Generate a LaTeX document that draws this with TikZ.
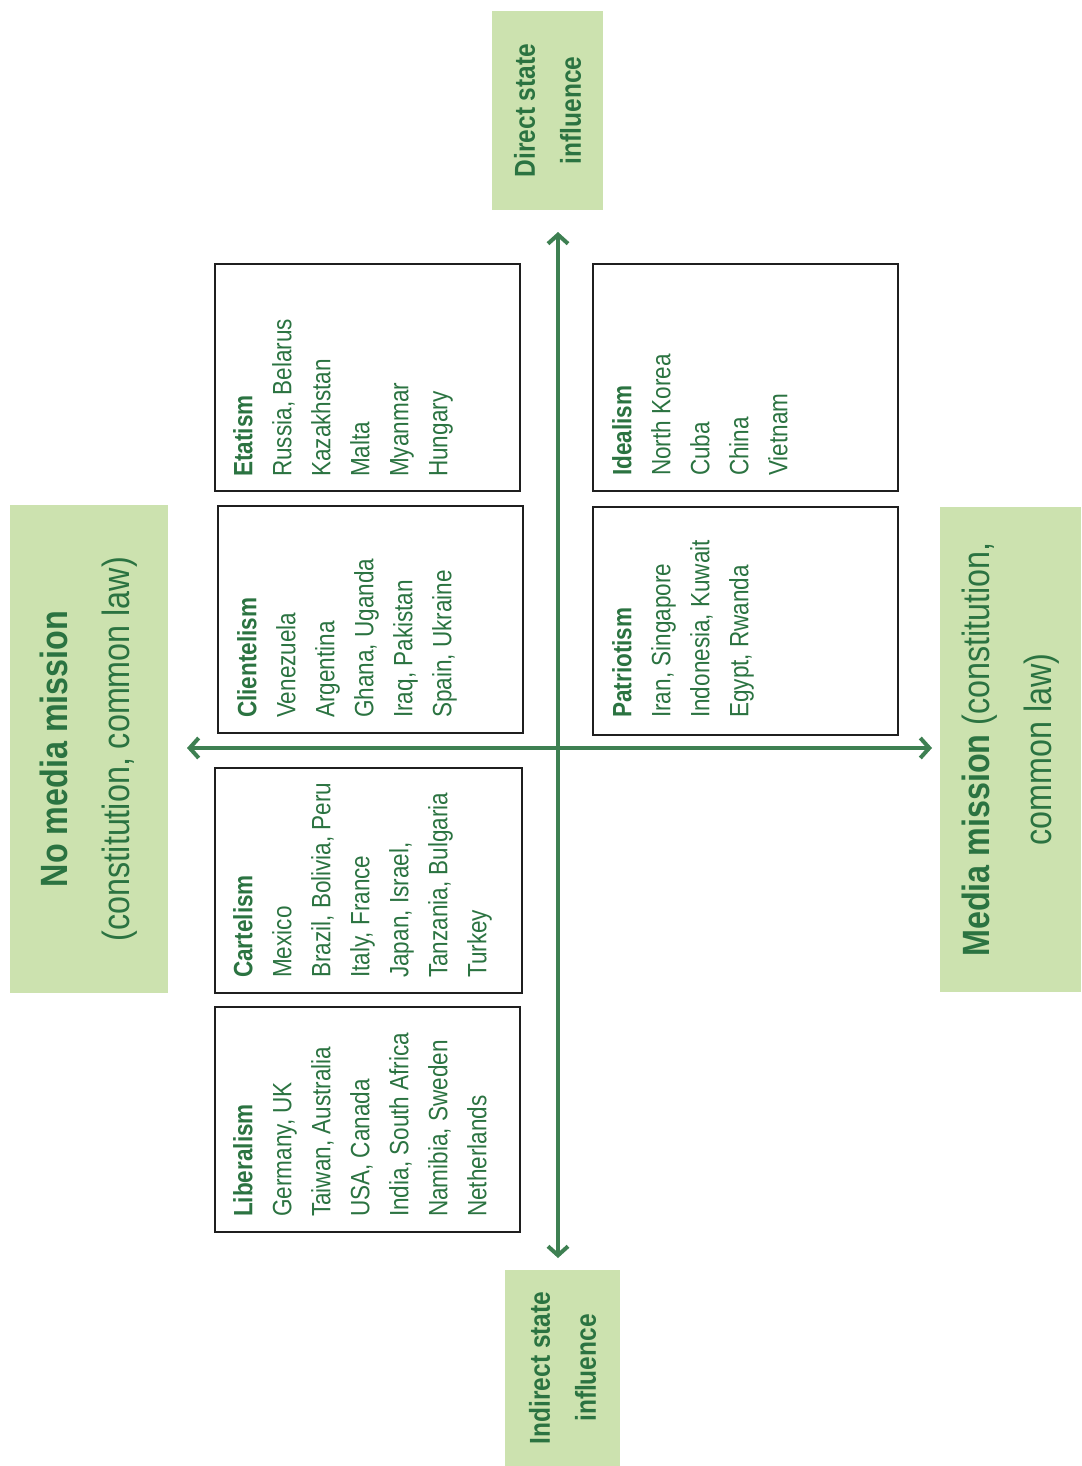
\documentclass[tikz,border=0pt]{standalone}
\usepackage{fontspec}
\setmainfont{Liberation Sans}[FakeStretch=0.85]
\usepackage{xcolor}
\usetikzlibrary{arrows.meta,positioning}

\definecolor{leaf}{HTML}{CCE2AF}
\definecolor{ink}{HTML}{2B7341}
\definecolor{axisgreen}{HTML}{3E8052}

\tikzset{
  label box/.style={fill=leaf, draw=none, rotate=90, align=center, text=ink, inner sep=0pt},
  model box/.style={draw=black!88, line width=2.4pt, inner sep=0pt},
  model text/.style={rotate=90, anchor=north west, inner sep=0pt, align=left, text=ink,
                     font=\fontsize{26.5}{39}\selectfont},
  axis/.style={axisgreen, line width=4.5pt,
               {Straight Barb[length=9pt,width=20pt,line width=4pt]}-{Straight Barb[length=9pt,width=20pt,line width=4pt]}}
}

\begin{document}
\begin{tikzpicture}[x=1pt, y=-1pt]
\useasboundingbox (0,0) rectangle (1081,1466);

%outer labels
\node[label box, minimum width=199pt, minimum height=111pt,
      font=\fontsize{28.8}{46}\selectfont\bfseries] (direct) at (547.5,110.5)
      {Direct state\\influence};
\node[label box, minimum width=196pt, minimum height=115pt,
      font=\fontsize{28.8}{46}\selectfont\bfseries] (indirect) at (562.5,1368)
      {Indirect state\\influence};
\node[label box, minimum width=488pt, minimum height=158pt,
      font=\fontsize{38}{62}\selectfont] (nomission) at (89,749)
      {\textbf{No media mission}\\(constitution,  common law)};
\node[label box, minimum width=485pt, minimum height=141pt,
      font=\fontsize{38}{62}\selectfont] (mission) at (1010.5,749.5)
      {\textbf{Media mission} (constitution,\\common  law)};

%axes
\coordinate (top) at (558,232);
\coordinate (bottom) at (558,1258);
\coordinate (left) at (187,748);
\coordinate (right) at (932,748);
\draw[axis] (bottom) -- (top);
\draw[axis] (left) -- (right);

%quadrant boxes
\node[model box, minimum width=305pt, minimum height=227pt] (etatism) at (367.5,377.5) {};
\node[model box, minimum width=305pt, minimum height=227pt] (clientelism) at (370.5,619.5) {};
\node[model box, minimum width=307pt, minimum height=225pt] (cartelism) at (368.5,880.5) {};
\node[model box, minimum width=305pt, minimum height=225pt] (liberalism) at (367.5,1119.5) {};
\node[model box, minimum width=305pt, minimum height=227pt] (idealism) at (745.5,377.5) {};
\node[model box, minimum width=305pt, minimum height=228pt] (patriotism) at (745.5,621) {};

%country lists
\node[model text] (etatismtext) at (233,477)
  {\textbf{Etatism}\\Russia, Belarus\\Kazakhstan\\Malta\\Myanmar\\Hungary};
\node[model text] (clientelismtext) at (237,718)
  {\textbf{Clientelism}\\Venezuela\\Argentina\\Ghana, Uganda\\Iraq, Pakistan\\Spain, Ukraine};
\node[model text] (cartelismtext) at (233,978)
  {\textbf{Cartelism}\\Mexico\\Brazil, Bolivia, Peru\\Italy, France\\Japan, Israel,\\Tanzania, Bulgaria\\Turkey};
\node[model text] (liberalismtext) at (233,1217)
  {\textbf{Liberalism}\\Germany, UK\\Taiwan, Australia\\USA, Canada\\India, South Africa\\Namibia, Sweden\\Netherlands};
\node[model text] (idealismtext) at (612,476)
  {\textbf{Idealism}\\North Korea\\Cuba\\China\\Vietnam};
\node[model text] (patriotismtext) at (612,718)
  {\textbf{Patriotism}\\Iran, Singapore\\Indonesia, Kuwait\\Egypt, Rwanda};

\end{tikzpicture}
\end{document}
